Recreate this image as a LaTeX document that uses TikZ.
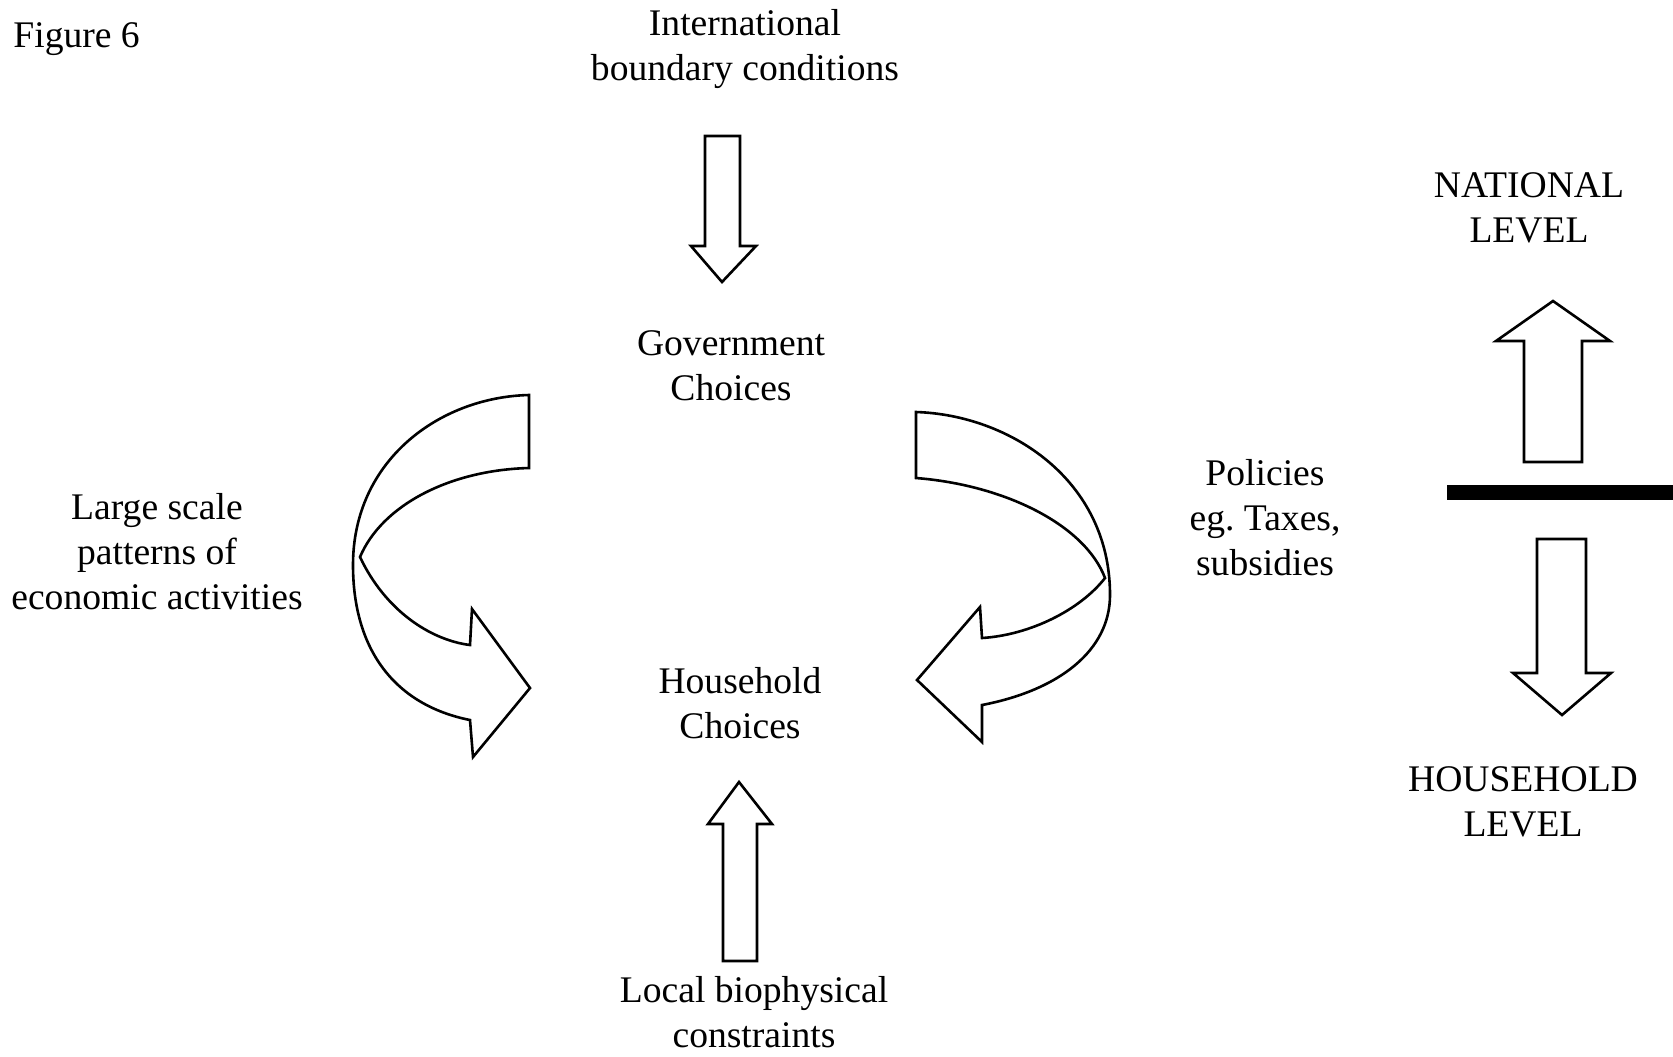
\documentclass[tikz,border=0pt]{standalone}
\usepackage{fontspec}
\setmainfont{Liberation Serif}
\begin{document}
\begin{tikzpicture}[
  x=0.5pt, y=-0.5pt,
  font=\fontsize{18.8}{22.5}\selectfont,
  label/.style={align=center, inner sep=0pt},
  blockarrow/.style={draw=black, line width=1.3pt, line join=miter, fill=white},
  divider/.style={draw=black, line width=7.5pt}
]
\useasboundingbox (0,0) rectangle (1673,1056);

% Labels
\node[label, anchor=west] (figlabel) at (13,39) {Figure 6};
\node[label] (intl) at (745,49) {International\\boundary conditions};
\node[label] (govt) at (731,366) {Government\\Choices};
\node[label] (household) at (740,703) {Household\\Choices};
\node[label] (local) at (754,1012) {Local biophysical\\constraints};
\node[label] (patterns) at (157,552) {Large scale\\patterns of\\economic activities};
\node[label] (policies) at (1265,518) {Policies\\eg.\ Taxes,\\subsidies};
\node[label] (national) at (1529,208) {NATIONAL\\LEVEL};
\node[label] (hhlevel) at (1523,802) {HOUSEHOLD\\LEVEL};

% Straight block arrows
\draw[blockarrow] (705,136) -- (740,136) -- (740,246) -- (756,246) -- (722,282) -- (691,246) -- (705,246) -- cycle;
\draw[blockarrow] (723,961) -- (757,961) -- (757,824) -- (772,824) -- (739,782) -- (708,824) -- (723,824) -- cycle;

% Curved ribbon arrows
\draw[blockarrow] (529,395) -- (529,468)
  .. controls (450,470) and (382,505) .. (360,557)
  .. controls (385,610) and (430,640) .. (470,645)
  -- (472,609) -- (530,688) -- (473,757) -- (470,720)
  .. controls (395,705) and (353,650) .. (353,565)
  .. controls (353,460) and (440,397) .. (529,395) -- cycle;
\draw[blockarrow] (916,412) -- (916,478)
  .. controls (1005,485) and (1085,525) .. (1105,578)
  .. controls (1080,610) and (1030,635) .. (982,638)
  -- (980,607) -- (917,680) -- (982,742) -- (982,705)
  .. controls (1060,690) and (1110,650) .. (1110,595)
  .. controls (1110,480) and (1010,415) .. (916,412) -- cycle;

% Level arrows and divider
\draw[blockarrow] (1524,462) -- (1582,462) -- (1582,341) -- (1610,341) -- (1553,301) -- (1496,341) -- (1524,341) -- cycle;
\draw[divider] (1447,492) -- (1673,492);
\draw[blockarrow] (1537,539) -- (1586,539) -- (1586,673) -- (1611,673) -- (1562,715) -- (1513,673) -- (1537,673) -- cycle;

\end{tikzpicture}
\end{document}
